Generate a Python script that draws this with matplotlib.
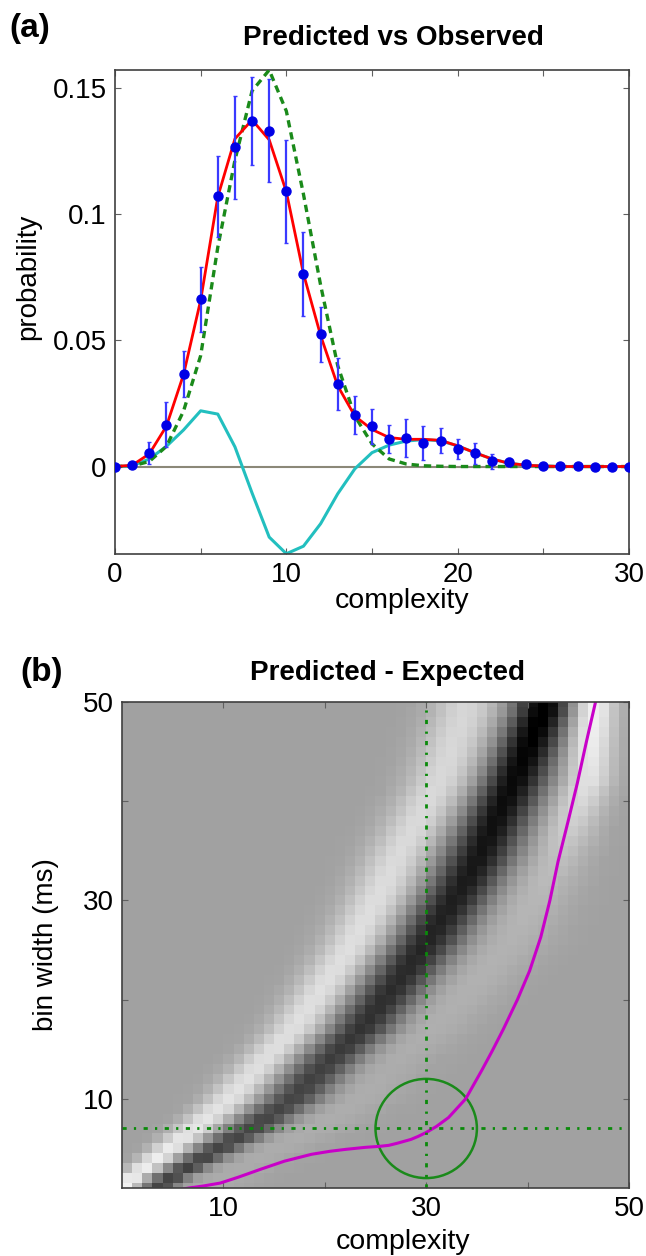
import numpy as np
import matplotlib
matplotlib.use('Agg')
import matplotlib.pyplot as plt
from matplotlib.patches import Circle

plt.rcParams['font.family'] = ['Liberation Sans', 'DejaVu Sans']

# ---- panel (a) data ----
cx = np.arange(0, 31)
observed = [0.0, 0.0005, 0.0054, 0.0166, 0.0366, 0.0663, 0.1072, 0.1266, 0.1371, 0.1332,
            0.1092, 0.0765, 0.0524, 0.0326, 0.0204, 0.0159, 0.0110, 0.0113, 0.0093, 0.0103,
            0.0071, 0.0052, 0.0020, 0.0018, 0.0009, 0.0003, 0.0001, 0.0001, 0.0, 0.0, 0.0]
obs_err = [0.0, 0.0008, 0.0043, 0.0089, 0.0092, 0.013, 0.016, 0.0205, 0.0176, 0.0204,
           0.0205, 0.0167, 0.011, 0.0103, 0.0076, 0.0069, 0.0056, 0.0075, 0.0066, 0.0049,
           0.004, 0.004, 0.0028, 0.0016, 0.0008, 0.0004, 0.0002, 0.0001, 0.0, 0.0, 0.0]
predicted = [0.0, 0.0005, 0.0050, 0.0160, 0.0365, 0.0660, 0.1070, 0.1300, 0.1375, 0.1296,
             0.1090, 0.0765, 0.0520, 0.0320, 0.0200, 0.0147, 0.0115, 0.0108, 0.0108, 0.0104,
             0.0082, 0.0055, 0.0030, 0.0013, 0.0005, 0.0002, 0.0, 0.0, 0.0, 0.0, 0.0]
expected = [0.0, 0.0002, 0.0020, 0.0080, 0.0220, 0.0440, 0.0870, 0.1215, 0.1490, 0.1573,
            0.1410, 0.1080, 0.0720, 0.0400, 0.0200, 0.0090, 0.0030, 0.0010, 0.0003, 0.0001,
            0.0, 0.0, 0.0, 0.0, 0.0, 0.0, 0.0, 0.0, 0.0, 0.0, 0.0]
difference = [0.0, 0.0003, 0.0030, 0.0080, 0.0145, 0.0221, 0.0208, 0.0078, -0.0105, -0.0280,
              -0.0346, -0.0316, -0.0227, -0.0108, -0.0009, 0.0055, 0.0085, 0.0101, 0.0107, 0.0102,
              0.0082, 0.0055, 0.0030, 0.0013, 0.0005, 0.0002, 0.0, 0.0, 0.0, 0.0, 0.0]

# ---- panel (b) data: band positions per bin width ----
row_bw = [1.0, 2.0, 6.8, 10.0, 13.5, 17.0, 25.6, 30.7, 34.4, 42.2, 49.3]
white_c = [0.3, 1.0, 7.0, 10.6, 13.7, 17.0, 22.8, 25.5, 27.2, 31.5, 33.9]
white_s = [0.9, 1.0, 1.5, 1.7, 1.8, 1.9, 2.1, 2.2, 2.2, 2.3, 2.3]
white_a = [0.33, 0.32, 0.28, 0.26, 0.25, 0.25, 0.25, 0.24, 0.23, 0.22, 0.21]
dark_c = [3.8, 4.8, 12.6, 16.9, 20.2, 23.7, 30.0, 33.2, 35.2, 38.8, 41.6]
dark_s = [1.1, 1.2, 1.8, 2.0, 2.1, 2.2, 2.4, 2.4, 2.4, 2.2, 2.0]
dark_a = [-0.38, -0.38, -0.37, -0.37, -0.39, -0.44, -0.49, -0.52, -0.55, -0.60, -0.66]
far_c = [9.0, 10.0, 18.0, 23.0, 26.0, 30.0, 38.0, 41.0, 43.0, 46.0, 46.4]
far_s = [2.5, 2.5, 3.0, 3.0, 3.0, 3.0, 3.0, 2.6, 2.2, 1.7, 1.6]
far_a = [0.04, 0.04, 0.05, 0.05, 0.05, 0.06, 0.07, 0.09, 0.12, 0.26, 0.34]
background = 0.63

curve_x = [5.5, 6.6, 8.0, 9.7, 11.5, 13.7, 16.0, 18.7, 20.5, 22.1, 24.0, 25.4, 26.3, 27.1,
           28.5, 29.2, 30.0, 31.0, 32.2, 33.9, 35.5, 36.5, 37.6, 39.0, 40.2, 41.3, 42.2,
           43.0, 44.0, 44.9, 45.8, 46.7]
curve_y = [0.8, 1.0, 1.2, 1.5, 2.1, 2.9, 3.7, 4.4, 4.7, 4.9, 5.1, 5.2, 5.3, 5.5,
           5.9, 6.2, 6.6, 7.2, 8.1, 10.0, 12.9, 14.8, 17.0, 20.0, 22.9, 26.3, 30.0,
           33.9, 38.0, 41.8, 46.0, 50.0]
sel_x, sel_y, sel_r = 30, 7, 5

W, H = 646, 1256
fig = plt.figure(figsize=(W / 100, H / 100), dpi=100)


def fx(px):
    return px / W


def fy(py):
    return 1 - py / H


def style_axes(ax):
    for s in ax.spines.values():
        s.set_color('#404040')
        s.set_linewidth(1.2)
    ax.tick_params(direction='in', length=4, width=0.8, color='#606060',
                   top=True, right=True, labelsize=20, pad=6)


# ---------------- panel (a) ----------------
ax1 = fig.add_axes([fx(115), fy(554), fx(629 - 115), (554 - 70) / H])
ax1.axhline(0, color='#8b8878', lw=1.5, zorder=1)
ax1.plot(cx, difference, color='#22bfbf', lw=2.2, zorder=2)
ax1.plot(cx, expected, color='#1a8a1a', lw=2.4, linestyle=(0, (2.2, 1.5)), zorder=3)
ax1.plot(cx, predicted, color='#ff0000', lw=2.0, zorder=4)
ax1.errorbar(cx, observed, yerr=obs_err, fmt='o', color='#0000e6', ecolor='#3a3aff',
             elinewidth=1.6, capsize=1.5, markersize=6.5, zorder=5)
ax1.set_xlim(0, 30)
ax1.set_ylim(-0.0347, 0.1573)
ax1.set_xticks(range(0, 31, 5))
ax1.set_xticklabels(['0', '', '10', '', '20', '', '30'])
ax1.set_yticks([0, 0.05, 0.1, 0.15])
ax1.set_yticklabels(['0', '0.05', '0.1', '0.15'])
style_axes(ax1)
ax1.set_ylabel('probability', fontsize=20)
ax1.yaxis.set_label_coords((41 - 115) / 514, (554 - 277) / 484)
fig.text(fx(402), fy(601), 'complexity', ha='center', va='center', fontsize=20.5)
fig.text(fx(393), fy(38), 'Predicted vs Observed', ha='center', va='center',
         fontsize=20, fontweight='bold')
fig.text(fx(30), fy(28), '(a)', ha='center', va='center', fontsize=24, fontweight='bold')

# ---------------- panel (b) ----------------
ax2 = fig.add_axes([fx(122), fy(1188), fx(629 - 122), (1188 - 702) / H])
bw = np.arange(1, 51)
cols = np.arange(50) + 0.5
img = np.full((len(bw), len(cols)), background)
for i, b in enumerate(bw):
    for c, s, a in ((white_c, white_s, white_a), (dark_c, dark_s, dark_a), (far_c, far_s, far_a)):
        mu = np.interp(b, row_bw, c)
        sg = np.interp(b, row_bw, s)
        am = np.interp(b, row_bw, a)
        img[i] += am * np.exp(-0.5 * ((cols - mu) / sg) ** 2)
img = np.clip(img, 0, 1)
ax2.imshow(img, cmap='gray', vmin=0, vmax=1, origin='lower', aspect='auto',
           interpolation='nearest', extent=(0, 50, 0.5, 50.5))
ax2.plot(curve_x, curve_y, color='#c800c8', lw=2.2)
dd = (0, (1.5, 2.6, 0.8, 2.7))
ax2.axvline(sel_x, color='#0a8a0a', lw=2.0, linestyle=dd)
ax2.axhline(sel_y, color='#0a8a0a', lw=2.0, linestyle=dd)
ax2.add_patch(Circle((sel_x, sel_y), sel_r, fill=False, edgecolor='#1a8a1a', lw=1.8))
ax2.set_xlim(0, 50)
ax2.set_ylim(1, 50)
ax2.set_xticks([10, 20, 30, 40, 50])
ax2.set_xticklabels(['10', '', '30', '', '50'])
ax2.set_yticks([10, 20, 30, 40, 50])
ax2.set_yticklabels(['10', '', '30', '', '50'])
style_axes(ax2)
ax2.set_ylabel('bin width (ms)', fontsize=20)
ax2.yaxis.set_label_coords((59 - 122) / 507, 0.5)
fig.text(fx(403), fy(1242), 'complexity', ha='center', va='center', fontsize=20.5)
fig.text(fx(387), fy(673), 'Predicted - Expected', ha='center', va='center',
         fontsize=20, fontweight='bold')
fig.text(fx(42), fy(673), '(b)', ha='center', va='center', fontsize=24, fontweight='bold')

fig.savefig('out.png', dpi=100)
